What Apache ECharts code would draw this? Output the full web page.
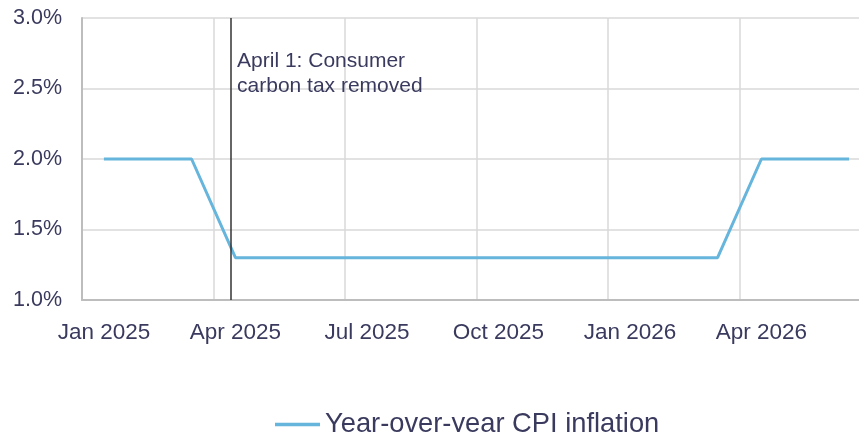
<!DOCTYPE html>
<html>
<head>
<meta charset="utf-8">
<script src="https://cdn.jsdelivr.net/npm/echarts@6/dist/echarts.min.js"></script>
<style>
  html, body { margin: 0; padding: 0; background: #fff; }
  #chart { width: 859px; height: 432px; }
</style>
</head>
<body>
<div id="chart"></div>
<script>
// Monthly categories, Jan 2025 through Jun 2026
const months = [
  'Jan 2025', 'Feb 2025', 'Mar 2025', 'Apr 2025', 'May 2025', 'Jun 2025',
  'Jul 2025', 'Aug 2025', 'Sep 2025', 'Oct 2025', 'Nov 2025', 'Dec 2025',
  'Jan 2026', 'Feb 2026', 'Mar 2026', 'Apr 2026', 'May 2026', 'Jun 2026'
];

// Year-over-year CPI inflation, percent
const cpiInflation = [
  2.0, 2.0, 2.0, 1.3, 1.3, 1.3,
  1.3, 1.3, 1.3, 1.3, 1.3, 1.3,
  1.3, 1.3, 1.3, 2.0, 2.0, 2.0
];

// Value-axis ticks (percent)
const yTicks = [1.0, 1.5, 2.0, 2.5, 3.0];

// April 1 event line, on the month-index scale (0 = Jan 2025)
const eventPosition = 2.9;
const eventLabel = ['April 1: Consumer', 'carbon tax removed'];

const seriesName = 'Year-over-year CPI inflation';

const FONT = '"Liberation Sans", Arial, sans-serif';
const TEXT = '#3a3a5e';
const LINE = '#66b5dc';

const chart = echarts.init(document.getElementById('chart'), null, { renderer: 'canvas' });

chart.setOption({
  animation: false,
  backgroundColor: '#ffffff',
  textStyle: { fontFamily: FONT },
  // plot area runs past the right edge of the canvas
  grid: {
    left: 82, top: 18, bottom: 132, width: 789,
    containLabel: false,
    outerBoundsMode: 'none'
  },
  xAxis: [
    {
      type: 'category',
      data: months,
      boundaryGap: true,
      axisLine: { show: true, lineStyle: { color: '#bdbdbd', width: 2 } },
      axisTick: { show: false },
      axisLabel: {
        interval: 2,
        margin: 21,
        color: TEXT,
        fontSize: 22.5,
        fontFamily: FONT
      },
      splitLine: { show: true, interval: 2, lineStyle: { color: '#d9d9d9', width: 1.5 } }
    },
    {
      type: 'value',
      min: -0.5,
      max: months.length - 0.5,
      show: false
    }
  ],
  yAxis: {
    type: 'value',
    min: yTicks[0],
    max: yTicks[yTicks.length - 1],
    interval: yTicks[1] - yTicks[0],
    axisLine: { show: true, onZero: false, lineStyle: { color: '#bdbdbd', width: 2 } },
    axisTick: { show: false },
    axisLabel: {
      margin: 20,
      color: TEXT,
      fontSize: 21.5,
      fontFamily: FONT,
      formatter: v => v.toFixed(1) + '%'
    },
    splitLine: { show: true, lineStyle: { color: '#d9d9d9', width: 1.5 } }
  },
  legend: {
    data: [{ name: seriesName, icon: 'rect' }],
    left: 270,
    top: 406,
    itemWidth: 45,
    itemHeight: 3.5,
    itemGap: 10,
    textStyle: { color: TEXT, fontSize: 27.3, fontFamily: FONT, padding: [0, 0, 0, 0] }
  },
  series: [
    {
      name: seriesName,
      type: 'line',
      data: cpiInflation,
      showSymbol: false,
      symbol: 'none',
      lineStyle: { color: LINE, width: 3 },
      itemStyle: { color: LINE },
      z: 3
    },
    {
      name: 'event',
      type: 'line',
      xAxisIndex: 1,
      data: [],
      markLine: {
        silent: true,
        symbol: ['none', 'none'],
        label: { show: false },
        lineStyle: { color: '#333333', width: 1.5, type: 'solid' },
        data: [{ xAxis: eventPosition }]
      },
      z: 4
    }
  ]
});

// Annotation text placed just right of the event line
const eventX = chart.convertToPixel({ xAxisIndex: 1 }, eventPosition);
chart.setOption({
  graphic: [
    {
      type: 'text',
      x: eventX + 6,
      y: 49,
      style: {
        text: eventLabel.join('\n'),
        fill: TEXT,
        fontSize: 21,
        lineHeight: 25,
        fontFamily: FONT
      },
      z: 10
    }
  ]
});
</script>
</body>
</html>
